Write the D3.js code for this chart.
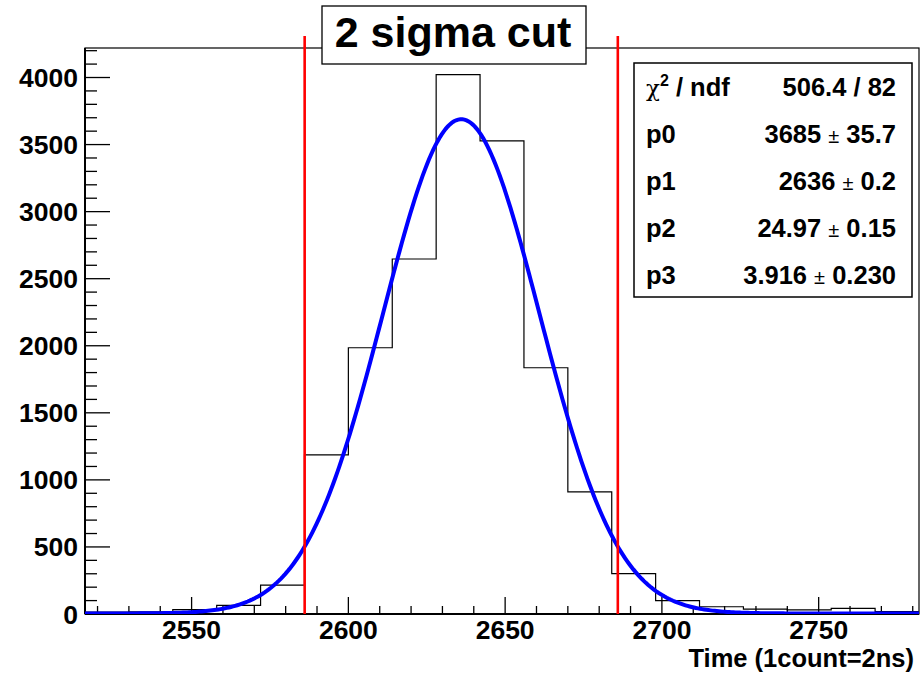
<!DOCTYPE html>
<html>
<head>
<meta charset="utf-8">
<script src="https://cdn.jsdelivr.net/npm/d3@7"></script>
<style>
  html, body { margin: 0; padding: 0; background: #fff; }
  svg { display: block; font-family: "Liberation Sans", Arial, Helvetica, sans-serif; }
</style>
</head>
<body>
<svg id="chart" width="923" height="674"></svg>
<script>
// Histogram bin lower edges (time counts), bin width 14
const binEdges = [2516, 2530, 2544, 2558, 2572, 2586, 2600, 2614, 2628, 2642,
                  2656, 2670, 2684, 2698, 2712, 2726, 2740, 2754, 2768];
const binWidth = 14;
// Entries per bin
const binCounts = [14, 16, 33, 64, 215, 1187, 1985, 2647, 4022, 3527,
                   1836, 910, 301, 99, 54, 36, 31, 42, 18];

// Gaussian + constant fit parameters
const fitNames  = ["p0", "p1", "p2", "p3"];
const fitValues = [3685, 2636, 24.97, 3.916];
const fitErrors = ["35.7", "0.2", "0.15", "0.230"];
const fitValueText = ["3685", "2636", "24.97", "3.916"];
const chi2Text = "506.4 / 82";

const xTicks = [2550, 2600, 2650, 2700, 2750];
const yTicks = [0, 500, 1000, 1500, 2000, 2500, 3000, 3500, 4000];

const xDomain = [2516, 2782];
const yDomain = [0, 4220];

const svg = d3.select("#chart");
const m = { left: 85, right: 919, top: 48, bottom: 614 };

const x = d3.scaleLinear().domain(xDomain).range([m.left, m.right]);
const y = d3.scaleLinear().domain(yDomain).range([m.bottom, m.top]);

// Frame
svg.append("rect")
  .attr("x", m.left).attr("y", m.top)
  .attr("width", m.right - m.left).attr("height", m.bottom - m.top)
  .attr("fill", "none").attr("stroke", "#000").attr("stroke-width", 1.2);

svg.append("clipPath").attr("id", "plotclip")
  .append("rect").attr("x", m.left).attr("y", m.top)
  .attr("width", m.right - m.left).attr("height", m.bottom - m.top);

// Y axis (ticks drawn inward)
const yMinor = d3.range(0, yDomain[1], 100);
svg.append("g").selectAll("line").data(yMinor).join("line")
  .attr("x1", m.left).attr("x2", d => m.left + (d % 500 === 0 ? 25 : 12))
  .attr("y1", d => y(d)).attr("y2", d => y(d))
  .attr("stroke", "#000").attr("stroke-width", 1.3);
svg.append("g").selectAll("text").data(yTicks).join("text")
  .attr("x", 78).attr("y", d => y(d)).attr("dy", "0.36em")
  .attr("text-anchor", "end").attr("font-size", 26.5).attr("font-weight", "bold")
  .text(d => d);

// X axis
const xMinor = d3.range(2520, xDomain[1], 10);
svg.append("g").selectAll("line").data(xMinor).join("line")
  .attr("x1", d => x(d)).attr("x2", d => x(d))
  .attr("y1", m.bottom).attr("y2", d => m.bottom - (d % 50 === 0 ? 17 : 8))
  .attr("stroke", "#000").attr("stroke-width", 1.3);
svg.append("g").selectAll("text").data(xTicks).join("text")
  .attr("x", d => x(d)).attr("y", 639)
  .attr("text-anchor", "middle").attr("font-size", 26.5).attr("font-weight", "bold")
  .text(d => d);

svg.append("line").attr("x1", m.left).attr("x2", m.right)
  .attr("y1", m.bottom).attr("y2", m.bottom).attr("stroke", "#000").attr("stroke-width", 2);
svg.append("line").attr("x1", m.left).attr("x2", m.left)
  .attr("y1", m.top).attr("y2", m.bottom).attr("stroke", "#000").attr("stroke-width", 2);

svg.append("text").attr("x", 914).attr("y", 667)
  .attr("text-anchor", "end").attr("font-size", 25.5).attr("font-weight", "bold")
  .text("Time (1count=2ns)");

// Histogram outline
const pts = [[binEdges[0], 0]];
binEdges.forEach((e, i) => {
  pts.push([e, binCounts[i]]);
  pts.push([e + binWidth, binCounts[i]]);
});
pts.push([binEdges[binEdges.length - 1] + binWidth, 0]);
svg.append("path")
  .attr("d", d3.line().x(d => x(d[0])).y(d => y(d[1]))(pts))
  .attr("fill", "none").attr("stroke", "#000").attr("stroke-width", 1.2)
  .attr("clip-path", "url(#plotclip)");

// Fitted curve: p0*exp(-0.5*((t-p1)/p2)^2) + p3
const [p0, p1, p2, p3] = fitValues;
const fitFn = t => p0 * Math.exp(-0.5 * Math.pow((t - p1) / p2, 2)) + p3;
const fitPts = d3.range(0, 401).map(i => {
  const t = xDomain[0] + (xDomain[1] - xDomain[0]) * i / 400;
  return [t, fitFn(t)];
});
svg.append("path")
  .attr("d", d3.line().x(d => x(d[0])).y(d => y(d[1]))(fitPts))
  .attr("fill", "none").attr("stroke", "#0000ff").attr("stroke-width", 4)
  .attr("clip-path", "url(#plotclip)");

// Two-sigma cut lines
const cuts = [p1 - 2 * p2, p1 + 2 * p2];
svg.append("g").selectAll("line").data(cuts).join("line")
  .attr("x1", d => x(d)).attr("x2", d => x(d))
  .attr("y1", 36).attr("y2", m.bottom)
  .attr("stroke", "#ff0000").attr("stroke-width", 2.6);

// Title box
svg.append("rect").attr("x", 322).attr("y", 6).attr("width", 264).attr("height", 58)
  .attr("fill", "#fff").attr("stroke", "#000").attr("stroke-width", 1.3);
svg.append("text").attr("x", 453).attr("y", 47)
  .attr("text-anchor", "middle").attr("font-size", 43).attr("font-weight", "bold")
  .text("2 sigma cut");

// Fit statistics box
svg.append("rect").attr("x", 634).attr("y", 63).attr("width", 278).attr("height", 234)
  .attr("fill", "#fff").attr("stroke", "#000").attr("stroke-width", 1.5);

const rowY = [96, 143, 190, 237, 284];
const statFont = 25.5;
const chiLabel = svg.append("text").attr("x", 646).attr("y", rowY[0])
  .attr("font-size", statFont).attr("font-weight", "bold");
chiLabel.append("tspan").attr("font-weight", "normal").attr("font-family", "DejaVu Serif, serif")
  .attr("font-size", 23).text("χ");
chiLabel.append("tspan").attr("dy", -10).attr("font-size", 16).text("2");
chiLabel.append("tspan").attr("dy", 10).text(" / ndf");
svg.append("text").attr("x", 896).attr("y", rowY[0]).attr("text-anchor", "end")
  .attr("font-size", statFont).attr("font-weight", "bold").text(chi2Text);

fitNames.forEach((n, i) => {
  svg.append("text").attr("x", 646).attr("y", rowY[i + 1])
    .attr("font-size", statFont).attr("font-weight", "bold").text(n);
  const t = svg.append("text").attr("x", 896).attr("y", rowY[i + 1]).attr("text-anchor", "end")
    .attr("font-size", statFont).attr("font-weight", "bold");
  t.append("tspan").text(fitValueText[i] + " ");
  t.append("tspan").attr("font-weight", "normal").attr("font-size", 20).text("±");
  t.append("tspan").text(" " + fitErrors[i]);
});
</script>
</body>
</html>
